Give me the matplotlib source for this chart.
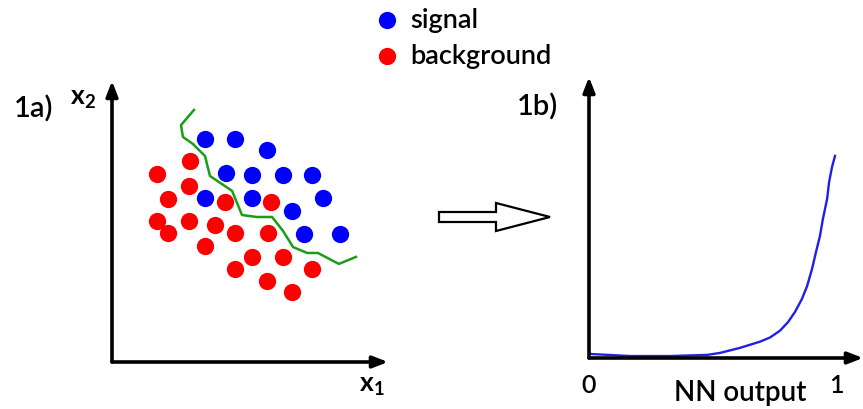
import matplotlib
matplotlib.use("Agg")
import matplotlib.pyplot as plt
import matplotlib.transforms as mtransforms
from matplotlib.patches import FancyArrow

plt.rcParams['font.family'] = ['Lato', 'DejaVu Sans']
plt.rcParams['font.weight'] = 'semibold'
plt.rcParams['mathtext.fontset'] = 'custom'
plt.rcParams['mathtext.rm'] = 'Lato:semibold'
plt.rcParams['mathtext.bf'] = 'Lato:bold'

# feature space (x1, x2) of the two samples
signal_x1 = [3.37, 4.46, 5.62, 4.13, 5.07, 6.20, 7.25, 3.37, 5.07, 7.64, 6.52, 6.96, 8.26]
signal_x2 = [7.94, 7.94, 7.54, 6.73, 6.65, 6.65, 6.65, 5.84, 5.84, 5.84, 5.37, 4.56, 4.56]
background_x1 = [2.83, 1.63, 2.79, 2.03, 4.09, 5.76, 1.63, 2.79, 3.73, 2.03,
                 4.46, 5.65, 3.37, 5.07, 6.20, 4.46, 7.25, 5.62, 6.52]
background_x2 = [7.15, 6.69, 6.26, 5.80, 5.69, 5.69, 5.02, 5.02, 4.88, 4.59,
                 4.59, 4.59, 4.13, 3.74, 3.74, 3.31, 3.31, 2.88, 2.49]

# decision boundary
boundary_x1 = [2.97, 2.50, 2.57, 2.93, 3.37, 3.55, 4.35, 4.71, 5.25, 5.80,
               6.20, 6.56, 7.07, 7.46, 8.22, 8.84]
boundary_x2 = [8.97, 8.43, 8.01, 7.76, 7.33, 6.62, 6.09, 5.23, 5.16, 5.16,
               4.66, 4.09, 3.88, 3.88, 3.49, 3.74]

# network response
nn_output = [0.0, 0.012, 0.166, 0.328, 0.478, 0.530, 0.611, 0.692, 0.733, 0.773,
             0.806, 0.834, 0.862, 0.883, 0.903, 0.919, 0.935, 0.947, 0.964,
             0.972, 0.984, 0.996]
nn_value = [0.016, 0.014, 0.007, 0.007, 0.011, 0.018, 0.036, 0.058, 0.073, 0.097,
            0.128, 0.164, 0.210, 0.256, 0.317, 0.377, 0.434, 0.495, 0.566,
            0.626, 0.680, 0.719]

W, H = 863, 410
fig = plt.figure(figsize=(W / 100, H / 100), dpi=100)


def draw_arrow_axes(ax):
    ax.set_axis_off()
    for tip in [(1, 0), (0, 1)]:
        ax.annotate('', xy=tip, xytext=(0, 0), xycoords='axes fraction',
                    arrowprops=dict(arrowstyle='-|>,head_length=0.9,head_width=0.35',
                                    lw=2.6, color='black', shrinkA=0, shrinkB=0),
                    annotation_clip=False)


# panel a: scatter in feature space
ax1 = fig.add_axes([112 / W, (H - 363) / H, 276 / W, 281 / H])
ax1.set_xlim(0, 10)
ax1.set_ylim(0, 10)
draw_arrow_axes(ax1)
ax1.scatter(signal_x1, signal_x2, s=155, color='#0000ff', lw=0, label='signal')
ax1.scatter(background_x1, background_x2, s=155, color='#ff0000', lw=0, label='background')
ax1.plot(boundary_x1, boundary_x2, color='#1a9e1a', lw=1.8)
ax1.text(-0.06, 0.94, r'$\mathbf{x}_\mathbf{2}$', transform=ax1.transAxes,
         fontsize=19, ha='right', va='center')
ax1.text(0.94, -0.08, r'$\mathbf{x}_\mathbf{1}$', transform=ax1.transAxes,
         fontsize=19, ha='center', va='center')
fig.text(14 / W, 1 - 109 / H, '1a)', fontsize=21, va='center', ha='left')

fig.legend(loc='upper left', bbox_to_anchor=(379 / W, 1 - 8 / H), frameon=False,
           fontsize=19.5, handlelength=0.6, handletextpad=0.55, labelspacing=0.4,
           borderpad=0, borderaxespad=0)

# hollow arrow between panels
to_px = mtransforms.Affine2D().scale(1 / W, 1 / H) + fig.transFigure
fig.add_artist(FancyArrow(439, H - 218, 111, 0, width=10, head_width=28, head_length=54,
                          length_includes_head=True, facecolor='white', edgecolor='black',
                          lw=1.6, transform=to_px))

# panel b: NN output distribution
ax2 = fig.add_axes([589 / W, (H - 359) / H, 274 / W, 281 / H])
ax2.set_xlim(0, 274 / 247)
ax2.set_ylim(0, 1)
draw_arrow_axes(ax2)
ax2.plot(nn_output, nn_value, color='#1f1fe6', lw=1.7)
for x, s in [(0, '0'), (1, '1')]:
    ax2.text(x, -0.095, s, transform=ax2.get_xaxis_transform(), fontsize=18,
             ha='center', va='center')
ax2.text(0.55, -0.12, 'NN output', transform=ax2.transAxes, fontsize=20,
         ha='center', va='center')
fig.text(537 / W, 1 - 107 / H, '1b)', fontsize=21, va='center', ha='center')

fig.savefig('out.png', dpi=100)
